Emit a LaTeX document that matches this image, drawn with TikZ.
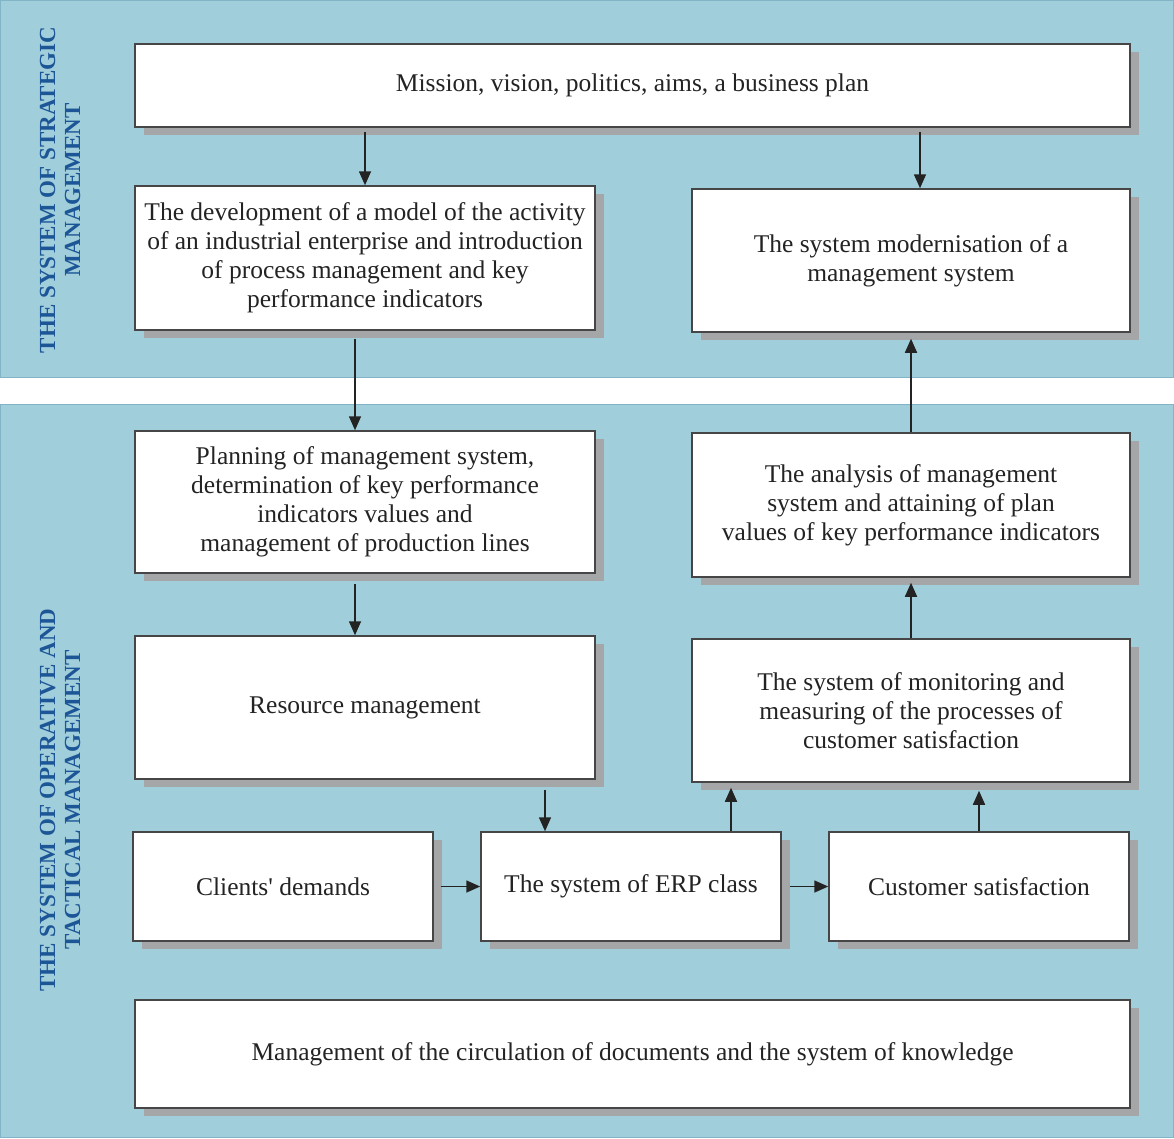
\documentclass[tikz,border=0pt]{standalone}
\usepackage{fontspec}
\setmainfont{Liberation Serif}
\usetikzlibrary{shadows,arrows.meta}
\definecolor{panelblue}{RGB}{161,206,219}
\definecolor{paneledge}{RGB}{130,180,200}
\definecolor{labelblue}{RGB}{28,86,150}
\definecolor{shadowgray}{RGB}{165,166,168}
\definecolor{boxedge}{RGB}{70,70,70}
\definecolor{txt}{RGB}{35,35,35}
\tikzset{
  panel/.style={fill=panelblue, draw=paneledge, line width=0.8pt},
  box/.style={draw=boxedge, line width=1.5pt, fill=white, text=txt, inner sep=0pt,
    align=center, font=\fontsize{25.5}{29}\selectfont,
    general shadow={fill=shadowgray, shadow xshift=9pt, shadow yshift=-8pt}},
  plabel/.style={rotate=90, text=labelblue, align=center,
    font=\fontsize{23}{25}\selectfont\bfseries},
  arr/.style={-{Triangle[length=14pt,width=12pt]}, line width=1.6pt, draw=txt},
}
\begin{document}
\begin{tikzpicture}[x=1pt,y=-1pt]
\useasboundingbox (0,0) rectangle (1174,1138);
\fill[white] (0,0) rectangle (1174,1138);
\draw[panel] (0.5,0.5) rectangle (1173.5,377);
\draw[panel] (0.5,404) rectangle (1173.5,1137.5);
\node[plabel] (lab1) at (60,190) {THE SYSTEM OF STRATEGIC\\MANAGEMENT};
\node[plabel] (lab2) at (60,800) {THE SYSTEM OF OPERATIVE AND\\TACTICAL MANAGEMENT};

\node[box, minimum width=995pt, minimum height=83pt] (mission) at (632.5,85.5)
  {Mission, vision, politics, aims, a business plan};
\node[box, minimum width=460pt, minimum height=144pt] (dev) at (365,258)
  {The development of a model of the activity\\of an industrial enterprise and introduction\\of process management and key\\performance indicators};
\node[box, minimum width=438pt, minimum height=143pt] (modern) at (911,260.5)
  {The system modernisation of a\\management system};
\node[box, minimum width=460pt, minimum height=142pt] (plan) at (365,502)
  {Planning of management system,\\determination of key performance\\indicators values and\\management of production lines};
\node[box, minimum width=438pt, minimum height=144pt] (analysis) at (911,505)
  {The analysis of management\\system and attaining of plan\\values of key performance indicators};
\node[box, minimum width=460pt, minimum height=143pt] (resource) at (365,707.5)
  {Resource management};
\node[box, minimum width=438pt, minimum height=143pt] (monitor) at (911,710.5)
  {The system of monitoring and\\measuring of the processes of\\customer satisfaction};
\node[box, minimum width=300pt, minimum height=109pt] (clients) at (283,886.5)
  {Clients\textquotesingle\ demands};
\node[box, minimum width=300pt, minimum height=109pt] (erp) at (631,886.5)
  {The system of ERP class};
\node[box, minimum width=300pt, minimum height=109pt] (cust) at (979,886.5)
  {Customer satisfaction};
\node[box, minimum width=995pt, minimum height=108pt] (docs) at (632.5,1054)
  {Management of the circulation of documents and the system of knowledge};

% arrows
\draw[arr] ([yshift=-4pt]mission.south -| dev.north) -- (dev.north);
\draw[arr] ([xshift=9pt,yshift=-4pt]mission.south -| modern.north) -- ([xshift=9pt]modern.north);
\draw[arr] ([xshift=-10pt,yshift=-8pt]dev.south) -- ([xshift=-10pt]plan.north);
\draw[arr] ([xshift=-10pt,yshift=-10pt]plan.south) -- ([xshift=-10pt]resource.north);
\draw[arr] ([xshift=180pt,yshift=-10pt]resource.south) -- ([xshift=-86pt]erp.north);
\draw[arr] ([xshift=100pt]erp.north) -- ([xshift=-180pt,yshift=-5pt]monitor.south);
\draw[arr] (cust.north) -- ([xshift=68pt,yshift=-8pt]monitor.south);
\draw[arr] (monitor.north) -- ([yshift=-5pt]analysis.south);
\draw[arr] (analysis.north) -- ([yshift=-6pt]modern.south);
\draw[arr] ([xshift=7pt]clients.east) -- (erp.west);
\draw[arr] ([xshift=8pt]erp.east) -- (cust.west);
\end{tikzpicture}
\end{document}
